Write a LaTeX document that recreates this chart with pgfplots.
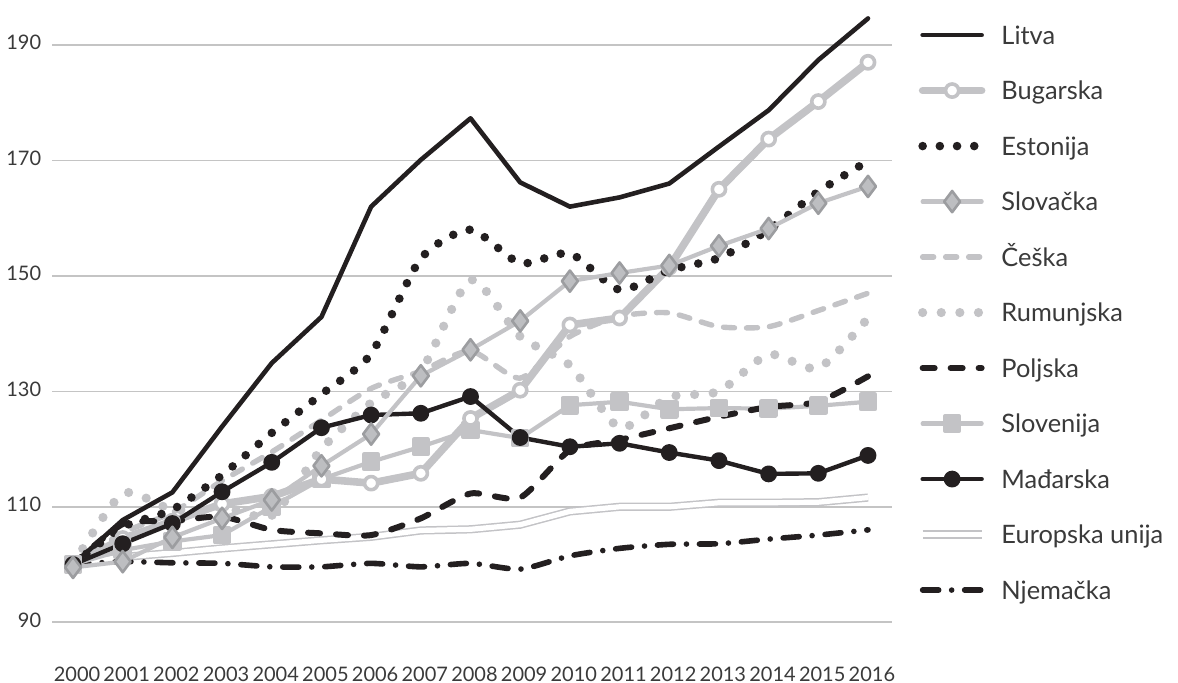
\documentclass[border=0pt]{standalone}
\usepackage{fontspec}
\setmainfont{Lato}
\usepackage{pgfplots}
\usepackage{pgfplotstable}
\pgfplotsset{compat=1.18}
\definecolor{ink}{HTML}{231F20}
\definecolor{lg}{HTML}{C3C3C6}
\definecolor{dfill}{HTML}{BDBEC1}
\definecolor{dedge}{HTML}{9C9DA0}
\definecolor{gridc}{HTML}{C4C4C4}
\definecolor{txt}{HTML}{3A3A3A}
\pgfplotstableread{
year lit   bug   est   slk   ces   rum   pol   slo   mad   eu    nje
2000 100   100   100   99.5  100   100   100   100   100   100   100
2001 107.7 104.5 106.5 100.5 105.5 112.3 107   102.5 103.6 101.3 100.5
2002 112.5 107.5 109.5 104.7 109   109.5 107.5 104   107.1 102   100.3
2003 123.9 110.5 115.5 108.0 114.5 110   108.3 105.1 112.6 102.8 100.2
2004 134.9 111.8 122.8 111.2 119.5 108.5 106   110   117.7 103.5 99.6
2005 142.9 114.8 129.5 117.1 125   120   105.4 114.8 123.7 104.2 99.6
2006 162.0 114.1 136.5 122.6 130.5 128   105.1 117.8 125.9 104.8 100.2
2007 170.1 115.8 153.0 132.7 133.5 133.5 108   120.4 126.2 105.9 99.6
2008 177.3 125.3 158.0 137.2 137   149.3 112.3 123.3 129.1 106.1 100.2
2009 166.2 130.2 152.2 142.2 132.3 139.5 111.6 121.9 122.0 106.9 99.2
2010 162.0 141.5 153.9 149.1 139.5 134.5 119.8 127.6 120.4 109.2 101.5
2011 163.6 142.7 147.6 150.5 143   123.7 121.6 128.2 121.0 110   102.8
2012 166.0 151.5 151.0 151.8 143.6 129   123.6 126.9 119.4 110   103.5
2013 172.4 165.0 153.1 155.2 141.2 130   125.6 127.1 118.0 110.7 103.6
2014 178.7 173.7 158.0 158.2 141.2 136.4 127.3 127   115.7 110.7 104.4
2015 187.4 180.2 164.6 162.6 144   134   128.2 127.5 115.8 110.8 105.1
2016 194.6 187.0 169.9 165.5 147   142.7 132.6 128.2 118.9 111.6 106.0
}\data
\pgfplotsset{
 litva/.style={ink, line width=2.3pt, mark=none, line join=round, line cap=round},
 bug/.style={lg, line width=3.8pt, line join=round, line cap=round, mark=*, mark size=3.3pt, mark options={fill=white, draw=lg, line width=1.8pt, solid}},
 est/.style={ink, line width=4.3pt, line cap=round, dash pattern=on 0pt off 8.6pt, mark=none, smooth, tension=0.4},
 slk/.style={lg, line width=2.1pt, line join=round, line cap=round, mark=diamond*, mark size=5.3pt, mark options={fill=dfill, draw=dedge, line width=1.3pt, solid}},
 ces/.style={lg, line width=2.7pt, line cap=round, dash pattern=on 5.5pt off 6pt, mark=none, smooth, tension=0.4},
 rum/.style={lg, line width=4.6pt, line cap=round, dash pattern=on 0pt off 9.3pt, mark=none, smooth, tension=0.4},
 pol/.style={ink, line width=3pt, line cap=round, dash pattern=on 6pt off 8pt, mark=none, smooth, tension=0.4},
 slo/.style={lg, line width=2.1pt, line join=round, line cap=round, mark=square*, mark size=3.6pt, mark options={fill=lg, draw=lg, solid}},
 mad/.style={ink, line width=2.2pt, line join=round, line cap=round, mark=*, mark size=3.1pt, mark options={fill=ink, draw=ink, solid}},
 eu/.style={draw=lg, line width=0.75pt, double=white, double distance=2.6pt, mark=none},
 nje/.style={ink, line width=2.8pt, line cap=round, dash pattern=on 8pt off 6.5pt on 0pt off 6.5pt, mark=none, smooth, tension=0.4},
}
\begin{document}
\begin{tikzpicture}
\useasboundingbox (0,0) rectangle (589pt,341.5pt);
\begin{axis}[
  at={(26pt,24.6pt)}, anchor=south west,
  scale only axis, width=420pt, height=316.9pt,
  xmin=1999.577, xmax=2016.483, ymin=88, ymax=197.8,
  axis line style={draw=none},
  major tick length=0pt,
  xtick={2000,...,2016},
  ytick={90,110,...,190},
  ymajorgrids, grid style={gridc, line width=0.75pt},
  /pgf/number format/1000 sep={},
  /pgf/number format/assume math mode=true,
  tick label style={font=\fontsize{10}{12}\selectfont, text=txt},
  yticklabel style={anchor=east, inner sep=0pt, xshift=-5.2pt, yshift=1.2pt},
  xticklabel style={anchor=north, inner sep=0pt, yshift=-16.4pt, xshift=2pt},
  clip=false,
  legend cell align=left,
  legend style={at={(1.031,0.968)}, anchor=north west, draw=none, fill=none, inner sep=0pt, outer sep=0pt, row sep=12.95pt, column sep=7.6pt, font=\fontsize{12.7}{15}\selectfont, text=txt, nodes={inner sep=0pt, text height=12pt, text depth=2.8pt}},
  legend image code/.code={\draw[mark repeat=2,mark phase=2,#1] plot coordinates {(0pt,0pt) (14.75pt,0pt) (29.5pt,0pt)};},
]
\addplot[eu, forget plot] table[x=year, y=eu] {\data};
\addplot[nje, forget plot] table[x=year, y=nje] {\data};
\addplot[rum, forget plot] table[x=year, y=rum] {\data};
\addplot[ces, forget plot] table[x=year, y=ces] {\data};
\addplot[slo, forget plot] table[x=year, y=slo] {\data};
\addplot[bug, forget plot] table[x=year, y=bug] {\data};
\addplot[pol, forget plot] table[x=year, y=pol] {\data};
\addplot[est, forget plot] table[x=year, y=est] {\data};
\addplot[mad, forget plot] table[x=year, y=mad] {\data};
\addplot[slk, forget plot] table[x=year, y=slk] {\data};
\addplot[litva, forget plot] table[x=year, y=lit] {\data};
\addlegendimage{litva}\addlegendentry{Litva}
\addlegendimage{bug}\addlegendentry{Bugarska}
\addlegendimage{est}\addlegendentry{Estonija}
\addlegendimage{slk}\addlegendentry{Slovačka}
\addlegendimage{ces}\addlegendentry{Češka}
\addlegendimage{rum}\addlegendentry{Rumunjska}
\addlegendimage{pol}\addlegendentry{Poljska}
\addlegendimage{slo}\addlegendentry{Slovenija}
\addlegendimage{mad}\addlegendentry{Mađarska}
\addlegendimage{eu}\addlegendentry{Europska unija}
\addlegendimage{nje}\addlegendentry{Njemačka}
\end{axis}
\end{tikzpicture}
\end{document}
